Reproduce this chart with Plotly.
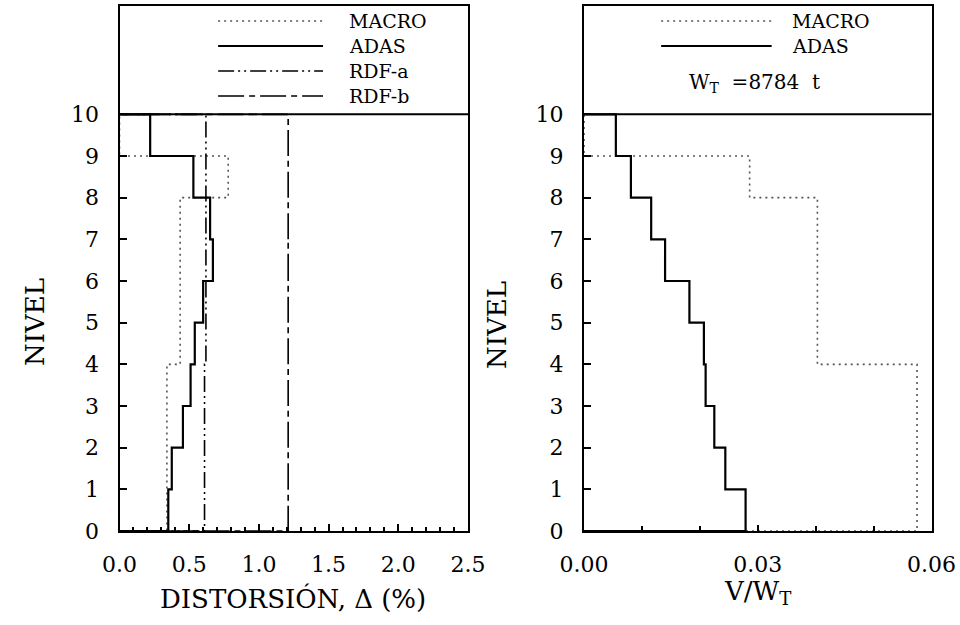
import plotly.graph_objects as go

# ---------------- data (value per story, story 1 = between level 0 and 1) -------------
levels = list(range(0, 11))
level_ticks = [str(v) for v in levels]

drift_macro = [0.34, 0.34, 0.34, 0.34, 0.435, 0.435, 0.435, 0.435, 0.78, 0.0]
drift_adas = [0.35, 0.375, 0.455, 0.51, 0.54, 0.60, 0.67, 0.65, 0.53, 0.22]
drift_rdfa = [0.61, 0.61, 0.61, 0.61, 0.62, 0.62, 0.62, 0.62, 0.62, 0.62]
drift_rdfb = [1.21, 1.21, 1.21, 1.21, 1.21, 1.21, 1.21, 1.21, 1.21, 1.21]

shear_macro = [0.0575, 0.0575, 0.0575, 0.0575, 0.0403, 0.0403, 0.0403, 0.0403, 0.0286, 0.0]
shear_adas = [0.0279, 0.0244, 0.0225, 0.0210, 0.0207, 0.0182, 0.0140, 0.0116, 0.0081, 0.0055]

drift_ticks = [0.0, 0.5, 1.0, 1.5, 2.0, 2.5]
drift_ticktext = ["0.0", "0.5", "1.0", "1.5", "2.0", "2.5"]
shear_ticks = [0.0, 0.03, 0.06]
shear_ticktext = ["0.00", "0.03", "0.06"]

FONT = "DejaVu Serif"
W, H = 960, 625


def stair(values):
    xs = [0.0] + list(values) + [0.0]
    ys = [0] + levels[:-1] + [10]
    return xs, ys


styles = {
    "MACRO": dict(color="#555555", width=1.6, dash="2px,4px"),
    "ADAS": dict(color="black", width=2.2),
    "RDF-a": dict(color="black", width=1.6, dash="16px,4px,2px,4px,2px,4px"),
    "RDF-b": dict(color="black", width=1.6, dash="26px,5px,6px,5px"),
}

fig = go.Figure()
for name, vals in [("MACRO", drift_macro), ("ADAS", drift_adas),
                   ("RDF-a", drift_rdfa), ("RDF-b", drift_rdfb)]:
    xs, ys = stair(vals)
    fig.add_trace(go.Scatter(x=xs, y=ys, mode="lines", line=dict(shape="vh", **styles[name]),
                             name=name, showlegend=False, xaxis="x", yaxis="y"))
for name, vals in [("MACRO", shear_macro), ("ADAS", shear_adas)]:
    xs, ys = stair(vals)
    fig.add_trace(go.Scatter(x=xs, y=ys, mode="lines", line=dict(shape="vh", **styles[name]),
                             name=name, showlegend=False, xaxis="x2", yaxis="y2"))

ydom = [1 - 531 / H, 1 - 6 / H]
common_axis = dict(showline=True, linewidth=2.2, linecolor="black", mirror=True,
                   showgrid=False, zeroline=False, ticks="inside", tickcolor="black",
                   tickwidth=1.5, tickfont=dict(family=FONT, size=22, color="black"))

fig.update_layout(
    width=W, height=H, margin=dict(l=0, r=0, t=0, b=0),
    paper_bgcolor="white", plot_bgcolor="white", showlegend=False,
    xaxis=dict(domain=[119.5 / W, 468 / W], range=[0, 2.5], tickvals=drift_ticks,
               ticktext=drift_ticktext, ticklen=7, anchor="y", automargin=False,
               ticklabelstandoff=12,
               minor=dict(dtick=0.1, tick0=0, ticks="inside", ticklen=4, tickcolor="black"),
               **common_axis),
    yaxis=dict(domain=ydom, range=[0, 12.6], tickvals=levels, ticktext=level_ticks,
               ticklen=7, anchor="x", automargin=False, ticklabelstandoff=14, **common_axis),
    xaxis2=dict(domain=[584 / W, 931.5 / W], range=[0, 0.06], tickvals=shear_ticks,
                ticktext=shear_ticktext, ticklen=6, anchor="y2", automargin=False,
                ticklabelstandoff=12,
                minor=dict(dtick=0.01, tick0=0, ticks="inside", ticklen=5, tickcolor="black"),
                **common_axis),
    yaxis2=dict(domain=ydom, range=[0, 12.6], tickvals=levels, ticktext=level_ticks,
                ticklen=7, anchor="x2", automargin=False, ticklabelstandoff=14, **common_axis),
)

shapes = []
annotations = []
# separator line at level 10
for xr, yr in [("x domain", "y"), ("x2 domain", "y2")]:
    shapes.append(dict(type="line", xref=xr, yref=yr, x0=0, x1=1, y0=10, y1=10,
                       line=dict(color="black", width=2)))

# legend left panel
leg_left = [("MACRO", 12.24), ("ADAS", 11.64), ("RDF-a", 11.04), ("RDF-b", 10.44)]
for name, yy in leg_left:
    st = styles[name]
    shapes.append(dict(type="line", xref="x domain", yref="y", x0=0.283, x1=0.584, y0=yy, y1=yy,
                       line=dict(color=st["color"], width=st["width"], dash=st.get("dash", "solid"))))
    annotations.append(dict(text=name, xref="x domain", yref="y", x=0.652, y=yy, xanchor="left",
                            yanchor="middle", showarrow=False,
                            font=dict(family=FONT, size=19, color="black")))
# legend right panel
leg_right = [("MACRO", 12.24), ("ADAS", 11.64)]
for name, yy in leg_right:
    st = styles[name]
    shapes.append(dict(type="line", xref="x2 domain", yref="y2", x0=0.222, x1=0.540, y0=yy, y1=yy,
                       line=dict(color=st["color"], width=st["width"], dash=st.get("dash", "solid"))))
    annotations.append(dict(text=name, xref="x2 domain", yref="y2", x=0.592, y=yy, xanchor="left",
                            yanchor="middle", showarrow=False,
                            font=dict(family=FONT, size=19, color="black")))
annotations.append(dict(text="W<sub>T</sub>&nbsp;&nbsp;=8784&nbsp;&nbsp;t", xref="x2 domain",
                        yref="y2", x=0.49, y=10.75, xanchor="center", yanchor="middle",
                        showarrow=False, font=dict(family=FONT, size=20, color="black")))

# axis titles
annotations.append(dict(text="DISTORSIÓN, Δ (%)", xref="paper", yref="paper", x=293 / W,
                        y=1 - 598 / H, xanchor="center", yanchor="middle", showarrow=False,
                        font=dict(family=FONT, size=26, color="black")))
annotations.append(dict(text="V/W<sub>T</sub>", xref="paper", yref="paper", x=757 / W,
                        y=1 - 592 / H, xanchor="center", yanchor="middle", showarrow=False,
                        font=dict(family=FONT, size=26, color="black")))
for xp, yp in [(35, 322), (497, 325)]:
    annotations.append(dict(text="NIVEL", xref="paper", yref="paper", x=xp / W, y=1 - yp / H,
                            xanchor="center", yanchor="middle", showarrow=False, textangle=-90,
                            font=dict(family=FONT, size=26, color="black")))

fig.update_layout(shapes=shapes, annotations=annotations)
fig.write_html("out.html", config={"displayModeBar": False},
               post_script="document.body.style.margin='0';document.body.style.overflow='hidden';")
